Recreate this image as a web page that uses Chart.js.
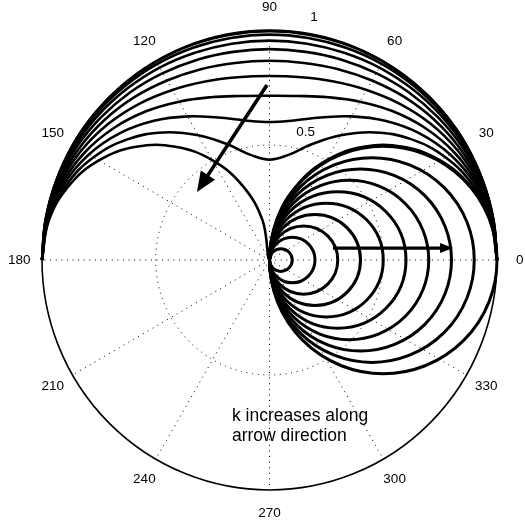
<!DOCTYPE html>
<html>
<head>
<meta charset="utf-8">
<script src="https://cdn.jsdelivr.net/npm/chart.js@4/dist/chart.umd.min.js"></script>
<style>
  html, body { margin: 0; padding: 0; background: #fff; }
  #wrap { width: 525px; height: 526px; }
</style>
</head>
<body>
<div id="wrap"><canvas id="polar" width="525" height="526"></canvas></div>
<script>
// ---- data -------------------------------------------------------------
// k values: each k gives one circle through the origin (diameter = k)
// and one curve over the upper half plane.
const kValues = [0.1, 0.2, 0.3, 0.4, 0.5, 0.6, 0.7, 0.8, 0.9, 1.0];

// angles (degrees) at which the upper-half curves are sampled
const upperAngles = [0, 10, 20, 30, 40, 50, 60, 70, 80, 90, 100, 110, 120, 130, 140, 150, 160, 170, 180];

// radius of the upper-half curve for each k, at upperAngles
const rK01 = [1.000, 1.000, 0.999, 0.999, 0.998, 0.997, 0.996, 0.996, 0.995, 0.995, 0.995, 0.996, 0.996, 0.997, 0.998, 0.999, 0.999, 1.000, 1.000];
const rK02 = [1.000, 0.999, 0.998, 0.995, 0.992, 0.988, 0.985, 0.982, 0.980, 0.980, 0.980, 0.982, 0.985, 0.988, 0.992, 0.995, 0.998, 0.999, 1.000];
const rK03 = [1.000, 0.999, 0.995, 0.989, 0.981, 0.973, 0.966, 0.959, 0.955, 0.954, 0.955, 0.959, 0.966, 0.973, 0.981, 0.989, 0.995, 0.999, 1.000];
const rK04 = [1.000, 0.998, 0.991, 0.980, 0.966, 0.952, 0.938, 0.927, 0.919, 0.917, 0.919, 0.927, 0.938, 0.952, 0.966, 0.980, 0.991, 0.998, 1.000];
const rK05 = [1.000, 0.996, 0.985, 0.968, 0.947, 0.924, 0.901, 0.883, 0.870, 0.866, 0.870, 0.883, 0.901, 0.924, 0.947, 0.968, 0.985, 0.996, 1.000];
const rK06 = [1.000, 0.995, 0.979, 0.954, 0.923, 0.888, 0.854, 0.826, 0.807, 0.800, 0.807, 0.826, 0.854, 0.888, 0.923, 0.954, 0.979, 0.995, 1.000];
const rK07 = [1.000, 0.993, 0.971, 0.937, 0.893, 0.844, 0.795, 0.753, 0.724, 0.714, 0.724, 0.753, 0.795, 0.844, 0.893, 0.937, 0.971, 0.993, 1.000];
const rK08 = [1.000, 0.990, 0.962, 0.917, 0.858, 0.790, 0.721, 0.659, 0.616, 0.600, 0.616, 0.659, 0.721, 0.790, 0.858, 0.917, 0.962, 0.990, 1.000];
const rK09 = [1.000, 0.988, 0.951, 0.893, 0.816, 0.724, 0.626, 0.534, 0.463, 0.436, 0.463, 0.534, 0.626, 0.724, 0.816, 0.893, 0.951, 0.988, 1.000];
const rK10 = [1.000, 0.985, 0.940, 0.866, 0.766, 0.643, 0.500, 0.342, 0.174, 0.000, 0.174, 0.342, 0.500, 0.643, 0.766, 0.866, 0.940, 0.985, 1.000];

// polar grid: spoke angles, ring radii and their labels
const angleTicks = [0, 30, 60, 90, 120, 150, 180, 210, 240, 270, 300, 330];
const angleTickLabels = ['0', '30', '60', '90', '120', '150', '180', '210', '240', '270', '300', '330'];
const ringTicks = [0.5, 1];
const ringTickLabels = ['0.5', '1'];

// annotation
const noteLines = ['k increases along', 'arrow direction'];

// ---- layout / style ---------------------------------------------------
const RMAX = 1;
const ANGLE_LABEL_R = 1.1;
const RING_LABEL_POS = [ { r: 0.576, deg: 74 }, { r: 1.075, deg: 79.5 } ];
const NOTE_POS = { x: -0.165, y: -0.70, lineStep: -0.087 };
const ARROWS = [
  { from: [-0.011, 0.761], to: [-0.319, 0.296], width: 3.6, headLen: 20, headHalf: 8.5 },
  { from: [0.279, 0.052], to: [0.807, 0.052], width: 3.2, headLen: 13, headHalf: 5 }
];
const FONT = '"Liberation Sans", Arial, Helvetica, sans-serif';

const upperSeries = [rK01, rK02, rK03, rK04, rK05, rK06, rK07, rK08, rK09, rK10];

const rad = d => d * Math.PI / 180;
const polarPoint = (r, deg) => ({ x: r * Math.cos(rad(deg)), y: r * Math.sin(rad(deg)) });

const datasets = [];

// upper-half curves
upperSeries.forEach((radii, i) => {
  datasets.push({
    label: 'upper k=' + kValues[i],
    data: radii.map((r, j) => polarPoint(r, upperAngles[j])),
    showLine: true,
    borderColor: '#000',
    borderWidth: 2.6,
    pointRadius: 0,
    tension: 0.4,
    fill: false,
    clip: false
  });
});

// circles through the origin on the 0° side: centre k/2, diameter k
kValues.forEach(k => {
  datasets.push({
    label: 'circle k=' + k,
    data: [{ x: k / 2, y: 0 }],
    showLine: false,
    pointStyle: 'circle',
    pointRadius: ctx => {
      const sx = ctx.chart.scales.x;
      return Math.abs(sx.getPixelForValue(k / 2) - sx.getPixelForValue(0));
    },
    pointBackgroundColor: 'rgba(0,0,0,0)',
    pointBorderColor: '#000',
    pointBorderWidth: 3,
    clip: false
  });
});

// ---- polar frame, grid, labels and arrows ----------------------------
const polarFrame = {
  id: 'polarFrame',
  beforeDatasetsDraw(chart) {
    const { ctx, scales: { x, y } } = chart;
    const cx = x.getPixelForValue(0), cy = y.getPixelForValue(0);
    const px = v => Math.abs(x.getPixelForValue(v) - cx);
    const py = v => Math.abs(y.getPixelForValue(v) - cy);
    ctx.save();
    ctx.strokeStyle = '#000';
    ctx.lineWidth = 1;
    ctx.setLineDash([1, 4.6]);
    // dotted spokes
    angleTicks.forEach(a => {
      const p = polarPoint(RMAX, a);
      ctx.beginPath();
      ctx.moveTo(cx, cy);
      ctx.lineTo(x.getPixelForValue(p.x), y.getPixelForValue(p.y));
      ctx.stroke();
    });
    // dotted inner rings
    ringTicks.filter(r => r < RMAX).forEach(r => {
      ctx.beginPath();
      ctx.ellipse(cx, cy, px(r), py(r), 0, 0, Math.PI * 2);
      ctx.stroke();
    });
    // solid outer ring
    ctx.setLineDash([]);
    ctx.lineWidth = 1.6;
    ctx.beginPath();
    ctx.ellipse(cx, cy, px(RMAX), py(RMAX), 0, 0, Math.PI * 2);
    ctx.stroke();
    ctx.restore();
  },
  afterDatasetsDraw(chart) {
    const { ctx, scales: { x, y } } = chart;
    const toPx = p => [x.getPixelForValue(p[0]), y.getPixelForValue(p[1])];
    ctx.save();
    ctx.fillStyle = '#000';
    ctx.strokeStyle = '#000';
    // arrows
    ARROWS.forEach(a => {
      const [x0, y0] = toPx(a.from);
      const [x1, y1] = toPx(a.to);
      const ang = Math.atan2(y1 - y0, x1 - x0);
      const bx = x1 - a.headLen * Math.cos(ang), by = y1 - a.headLen * Math.sin(ang);
      ctx.lineWidth = a.width;
      ctx.lineCap = 'butt';
      ctx.beginPath();
      ctx.moveTo(x0, y0);
      ctx.lineTo(bx + 2 * Math.cos(ang), by + 2 * Math.sin(ang));
      ctx.stroke();
      ctx.beginPath();
      ctx.moveTo(x1, y1);
      ctx.lineTo(bx - a.headHalf * Math.sin(ang), by + a.headHalf * Math.cos(ang));
      ctx.lineTo(bx + a.headHalf * Math.sin(ang), by - a.headHalf * Math.cos(ang));
      ctx.closePath();
      ctx.fill();
    });
    // angle labels
    ctx.font = '13.5px ' + FONT;
    ctx.textAlign = 'center';
    ctx.textBaseline = 'middle';
    angleTicks.forEach((a, i) => {
      const p = polarPoint(ANGLE_LABEL_R, a);
      ctx.fillText(angleTickLabels[i], x.getPixelForValue(p.x), y.getPixelForValue(p.y));
    });
    // ring labels
    ringTickLabels.forEach((t, i) => {
      const p = polarPoint(RING_LABEL_POS[i].r, RING_LABEL_POS[i].deg);
      ctx.fillText(t, x.getPixelForValue(p.x), y.getPixelForValue(p.y));
    });
    // annotation
    ctx.font = '17.5px ' + FONT;
    ctx.textAlign = 'left';
    ctx.textBaseline = 'alphabetic';
    noteLines.forEach((t, i) => {
      ctx.fillText(t, x.getPixelForValue(NOTE_POS.x), y.getPixelForValue(NOTE_POS.y + i * NOTE_POS.lineStep));
    });
    ctx.restore();
  }
};

new Chart(document.getElementById('polar'), {
  type: 'scatter',
  data: { datasets },
  options: {
    responsive: false,
    animation: false,
    events: [],
    layout: { padding: { left: 42, right: 28, top: 30, bottom: 36 } },
    scales: {
      x: { type: 'linear', min: -RMAX, max: RMAX, display: false },
      y: { type: 'linear', min: -RMAX, max: RMAX, display: false }
    },
    plugins: { legend: { display: false }, tooltip: { enabled: false } }
  },
  plugins: [polarFrame]
});
</script>
</body>
</html>
